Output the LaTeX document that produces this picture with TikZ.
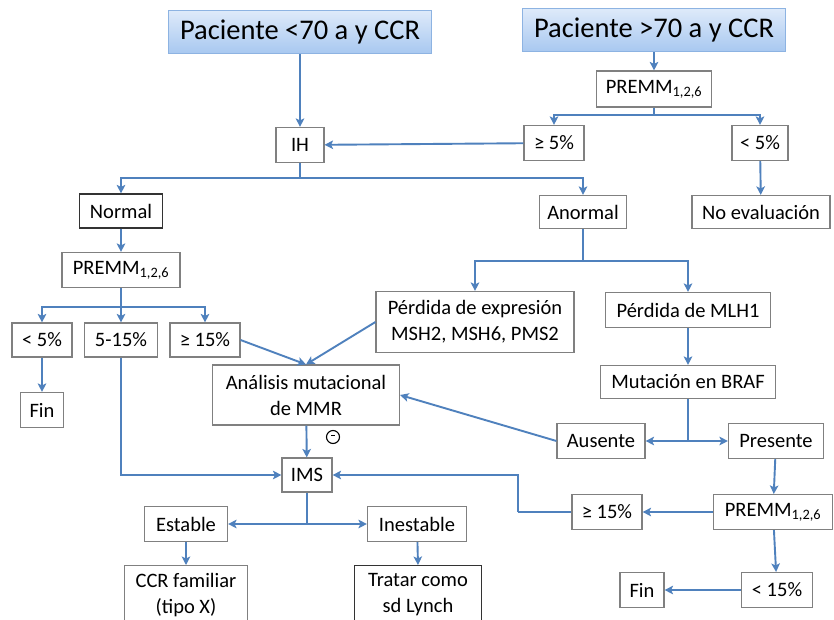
\documentclass[tikz,border=0pt]{standalone}
\usepackage{fontspec}
\setmainfont{Carlito}
\usetikzlibrary{arrows.meta}
\definecolor{lineblue}{RGB}{79,129,189}
\definecolor{boxgray}{RGB}{128,128,128}
\definecolor{topfill1}{RGB}{222,234,250}
\definecolor{topfill2}{RGB}{168,200,240}
\definecolor{topborder}{RGB}{141,179,226}
\tikzset{
  box/.style={draw=boxgray, line width=1.1pt, fill=white, minimum height=35pt, inner sep=0pt, text=black, font=\fontsize{20.5}{26}\selectfont, align=center},
  darkbox/.style={box, draw=black!80},
  topbox/.style={draw=topborder, line width=1.1pt, top color=topfill1, bottom color=topfill2, minimum width=263pt, minimum height=43pt, inner sep=0pt, text=black, font=\fontsize{28.5}{32}\selectfont},
  txt/.style={inner sep=0pt, text=black, font=\fontsize{20.5}{26}\selectfont, align=center},
  conn/.style={draw=lineblue, line width=1.9pt},
  arr/.style={conn, -{Stealth[length=8.5pt,width=8.5pt,inset=2pt]}},
}
\begin{document}
\begin{tikzpicture}[x=1pt,y=-1pt]
\useasboundingbox (0,0) rectangle (834,620);
\fill[white] (0,0) rectangle (834,620);
\clip (0,0) rectangle (834,620);
% top
\node[topbox] (P70L) at (300,32) {Paciente <70 a y CCR};
\node[topbox] (P70R) at (654,30) {Paciente >70 a y CCR};
\node[box, minimum width=115pt, minimum height=36pt] (PR1) at (654,89) {PREMM\textsubscript{1,2,6}};
\node[box, minimum width=60pt] (ge5) at (554,143) {≥ 5\%};
\node[box, minimum width=56pt] (lt5) at (760,143) {< 5\%};
\node[box, minimum width=48pt] (IH) at (300,145) {IH};
\node[darkbox, minimum width=83pt, minimum height=34pt] (Normal) at (121,211) {Normal};
\node[box, minimum width=87pt, minimum height=33pt] (Anormal) at (583,212) {Anormal};
\node[box, minimum width=138pt, minimum height=33pt] (NoEv) at (761,212) {No evaluación};
% left branch
\node[box, minimum width=118pt, minimum height=35pt] (PR2) at (121,270) {PREMM\textsubscript{1,2,6}};
\node[box, minimum width=60pt, minimum height=34pt] (lt5L) at (42,340) {< 5\%};
\node[box, minimum width=73pt, minimum height=34pt] (m515) at (121,340) {5-15\%};
\node[box, minimum width=70pt, minimum height=34pt] (ge15L) at (205,340) {≥ 15\%};
\node[box, minimum width=43pt, minimum height=35pt] (FinL) at (42,410) {Fin};
\node[box, minimum width=187pt, minimum height=60pt] (Anal) at (306,395) {Análisis mutacional\\de MMR};
% right middle
\node[box, minimum width=198pt, minimum height=61pt] (Pexp) at (475,322) {Pérdida de expresión\\MSH2, MSH6, PMS2};
\node[box, minimum width=165pt, minimum height=35pt] (MLH1) at (688,310) {Pérdida de MLH1};
\node[box, minimum width=175pt, minimum height=33pt] (BRAF) at (688,382) {Mutación en BRAF};
\node[box, minimum width=88pt, minimum height=35pt] (Aus) at (601,441) {Ausente};
\node[box, minimum width=95pt, minimum height=35pt] (Pres) at (776,441) {Presente};
\node[box, minimum width=70pt, minimum height=35pt] (ge15R) at (607,512) {≥ 15\%};
\node[box, minimum width=119pt, minimum height=35pt] (PR3) at (773,512) {PREMM\textsubscript{1,2,6}};
\node[box, minimum width=71pt, minimum height=35pt] (lt15) at (777,590) {< 15\%};
\node[box, minimum width=44pt, minimum height=35pt] (FinR) at (642,590) {Fin};
% bottom
\node[box, minimum width=50pt, minimum height=34pt] (IMS) at (307,475) {IMS};
\node[box, minimum width=83pt, minimum height=35pt] (Est) at (186,524) {Estable};
\node[box, minimum width=99pt, minimum height=35pt] (Ines) at (417,524) {Inestable};
\node[box, anchor=north, minimum width=123pt, minimum height=80pt] (CCR) at (186,565) {};
\node[txt] (CCRt) at (186,595) {CCR familiar\\(tipo X)};
\node[darkbox, anchor=north, minimum width=127pt, minimum height=80pt] (Trat) at (418,565) {};
\node[txt] (Tratt) at (418,595) {Tratar como\\sd Lynch};
\node[draw=black, line width=1.1pt, circle, minimum size=13pt, inner sep=0pt] (minus) at (333,437) {};
\draw[black, line width=1.1pt] ([xshift=-2pt,yshift=1.5pt]minus.center) -- ([xshift=2pt,yshift=1.5pt]minus.center);
% junction coordinates
\coordinate (j1) at (654,115);
\coordinate (j2) at (300,178);
\coordinate (j3) at (121,307);
\coordinate (j4) at (583,261);
\coordinate (j5) at (688,441);
\coordinate (j6) at (307,524);
\coordinate (j7) at (518,512);
% connectors
\draw[arr] (P70L) -- (IH);
\draw[arr] (P70R) -- (PR1);
\draw[conn] (PR1.south) -- (j1);
\draw[arr] (j1) -| (ge5.north);
\draw[arr] (j1) -| (lt5.north);
\draw[arr] (ge5) -- (IH);
\draw[arr] (lt5) -- (NoEv);
\draw[conn] (IH.south) -- (j2);
\draw[arr] (j2) -| (Normal.north);
\draw[arr] (j2) -| (Anormal.north);
\draw[arr] (Normal) -- (PR2);
\draw[conn] (PR2.south) -- (j3);
\draw[arr] (j3) -| (lt5L.north);
\draw[arr] (j3) -- (m515.north);
\draw[arr] (j3) -| (ge15L.north);
\draw[arr] (lt5L) -- (FinL);
\draw[arr] (m515.south) |- (IMS.west);
\draw[arr] (ge15L.east) -- (Anal.north);
\draw[arr] (Pexp.west) -- (Anal.north);
\draw[conn] (Anormal.south) -- (j4);
\draw[arr] (j4) -| (Pexp.north);
\draw[arr] (j4) -| (MLH1.north);
\draw[arr] (MLH1) -- (BRAF);
\draw[conn] (BRAF.south) -- (j5);
\draw[arr] (j5) -- (Aus.east);
\draw[arr] (j5) -- (Pres.west);
\draw[arr] (Aus.west) -- (Anal.east);
\draw[arr] (Anal) -- (IMS);
\draw[arr] (Pres) -- (PR3);
\draw[arr] (PR3) -- (ge15R);
\draw[conn] (ge15R.west) -- (j7);
\draw[arr] (j7) |- (IMS.east);
\draw[arr] (PR3) -- (lt15);
\draw[arr] (lt15) -- (FinR);
\draw[conn] (IMS.south) -- (j6);
\draw[arr] (j6) -- (Est.east);
\draw[arr] (j6) -- (Ines.west);
\draw[arr] (Est) -- (CCR.north);
\draw[arr] (Ines) -- (Trat.north);
\end{tikzpicture}
\end{document}
